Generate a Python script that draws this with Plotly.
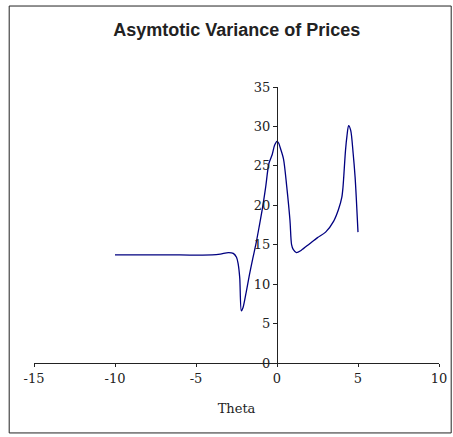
import plotly.graph_objects as go

theta = [-10, -8, -6, -4, -3.5, -3.0, -2.7, -2.5, -2.4, -2.3, -2.2, -2.1, -1.9, -1.7,
         -1.5, -1.3, -1.1, -0.9, -0.7, -0.5, -0.3, -0.15, 0.0, 0.1, 0.2, 0.4, 0.6, 0.8,
         0.9, 1.0, 1.2, 1.5, 2.0, 2.5, 3.0, 3.5, 3.8, 4.0, 4.07, 4.12, 4.23, 4.32, 4.42,
         4.55, 4.7, 4.82, 4.9, 5.0]
variance = [13.7, 13.7, 13.7, 13.7, 13.8, 14.0, 13.9, 13.4, 12.6, 10.8, 6.6, 7.0, 9.0, 11.2,
            13.2, 15.1, 17.3, 19.6, 22.3, 25.3, 26.4, 27.6, 28.1, 27.9, 27.3, 25.9, 22.4, 18.1,
            15.0, 14.4, 14.0, 14.3, 15.1, 15.9, 16.6, 18.0, 19.5, 21.0, 22.2, 23.6, 27.0, 28.8,
            30.1, 29.5, 26.6, 23.6, 20.7, 16.6]

x_ticks = [-15, -10, -5, 0, 5, 10]
y_ticks = [0, 5, 10, 15, 20, 25, 30, 35]

W, H = 453, 437
L, R, T, B = 34.3, 439.3, 87.3, 362.7
pw, ph = R - L, B - T

fig = go.Figure()
fig.add_trace(go.Scatter(x=theta, y=variance, mode="lines",
                         line=dict(color="#000080", width=1.3, shape="spline", smoothing=0.8),
                         hoverinfo="skip", showlegend=False))

tickfont = dict(family="DejaVu Serif", size=13, color="#222222")
fig.update_layout(
    template="none",
    width=W, height=H,
    margin=dict(l=L, r=W - R, t=T, b=H - B, pad=0, autoexpand=False),
    paper_bgcolor="white", plot_bgcolor="white",
    title=dict(text="<b>Asymtotic Variance of Prices</b>",
               font=dict(family="Liberation Sans", size=18, color="#222222"),
               x=(L + pw / 2) / W, xanchor="center", y=1 - 30 / H, yanchor="middle"),
    xaxis=dict(range=[x_ticks[0], x_ticks[-1]], tickvals=x_ticks, ticktext=[str(v) for v in x_ticks],
               showgrid=False, zeroline=False, showline=True, linecolor="#222222", linewidth=1,
               ticks="outside", ticklen=3, tickcolor="#222222", tickfont=tickfont, automargin=False,
               title=dict(text="Theta", font=dict(family="DejaVu Serif", size=13, color="#222222"),
                          standoff=19)),
    yaxis=dict(range=[y_ticks[0], y_ticks[-1]], tickvals=y_ticks, ticktext=[str(v) for v in y_ticks],
               showgrid=False, zeroline=False, showline=True, linecolor="#222222", linewidth=1,
               ticks="outside", ticklen=4, tickcolor="#222222", tickfont=tickfont, automargin=False,
               anchor="free", position=(0 - x_ticks[0]) / (x_ticks[-1] - x_ticks[0])),
)

# chart border
bx0, bx1, by0, by1 = 9.5, 451.5, 6.5, 432.5
fig.add_shape(type="rect", xref="paper", yref="paper",
              x0=(bx0 - L) / pw, x1=(bx1 - L) / pw,
              y0=(B - by1) / ph, y1=(B - by0) / ph,
              line=dict(color="#222222", width=1), fillcolor="rgba(0,0,0,0)", layer="above")

fig.write_html("out.html", config={"displayModeBar": False, "staticPlot": True},
               post_script="document.body.style.margin='0';document.body.style.overflow='hidden';")
